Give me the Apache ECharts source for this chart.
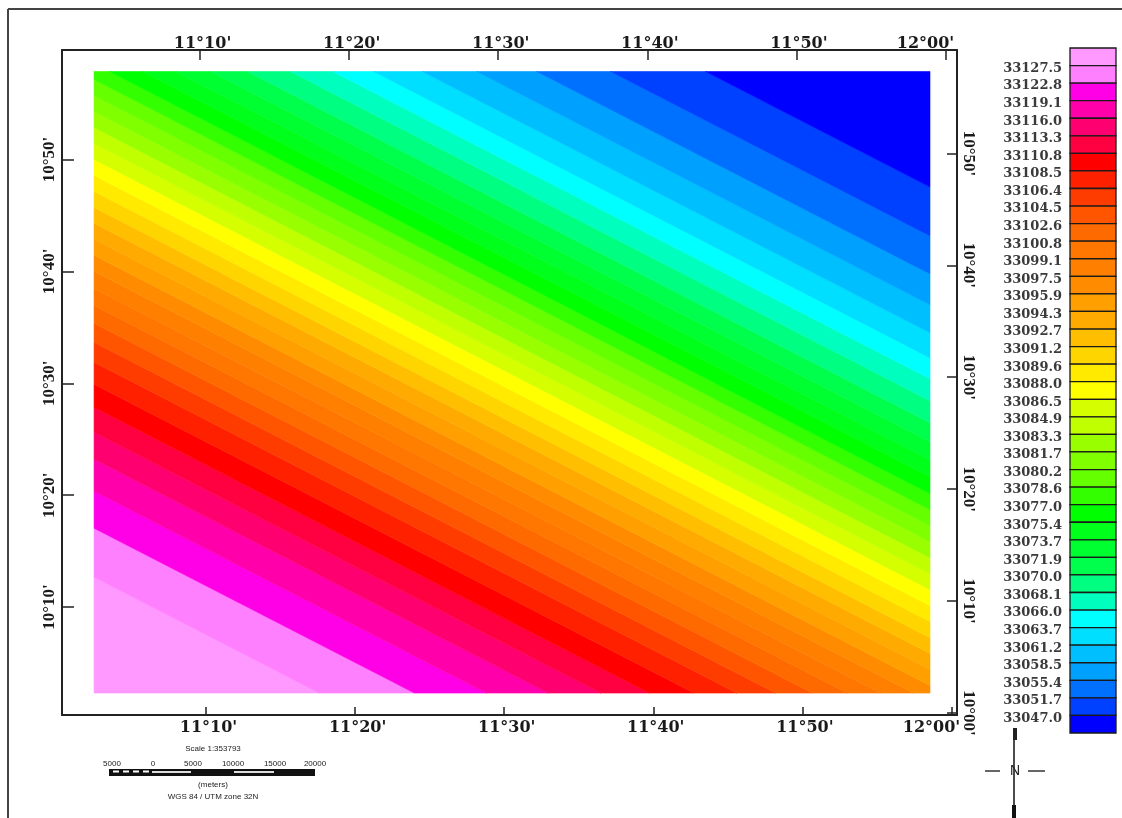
<!DOCTYPE html>
<html>
<head>
<meta charset="utf-8">
<style>html,body{margin:0;padding:0;background:#fff}#c{width:1122px;height:818px}</style>
<script src="https://cdn.jsdelivr.net/npm/echarts@6/dist/echarts.min.js"></script>
</head>
<body>
<div id="c"></div>
<script>
// Gravity levels as printed on the colour scale, top to bottom
const levelLabels = ['33127.5','33122.8','33119.1','33116.0','33113.3','33110.8','33108.5','33106.4','33104.5','33102.6','33100.8','33099.1','33097.5','33095.9','33094.3','33092.7','33091.2','33089.6','33088.0','33086.5','33084.9','33083.3','33081.7','33080.2','33078.6','33077.0','33075.4','33073.7','33071.9','33070.0','33068.1','33066.0','33063.7','33061.2','33058.5','33055.4','33051.7','33047.0'];
// Band colours, top of the scale to bottom
const bandColors = ['#FF99FF','#FF80FF','#FF00E6','#FF00AA','#FF0070','#FF0040','#FF0000','#FF2000','#FF3C00','#FF5500','#FF6A00','#FF7700','#FF8000','#FF8C00','#FF9F00','#FFAA00','#FFBF00','#FFD500','#FFEA00','#FFFF00','#D5FF00','#BFFF00','#99FF00','#80FF00','#66FF00','#33FF00','#00FF00','#00FF1A','#00FF30','#00FF4D','#00FF80','#00FFBF','#00FFFF','#00DFFF','#00BFFF','#00A0FF','#0070FF','#0040FF','#0000FF'];
// Latitude (minutes of arc) where each contour meets the west edge of the map, same order as levelLabels
const contourLat = [612.68,617.05,620.36,623.21,625.63,627.86,629.91,631.88,633.66,635.36,636.96,638.48,640.0,641.43,642.86,644.29,645.71,647.14,648.57,650.0,651.43,652.86,654.29,655.71,657.14,658.57,660.09,661.61,663.21,664.91,666.88,668.84,670.71,672.95,675.45,678.21,681.61,685.98];
const contourSlope = -0.6856; // minutes of latitude per minute of longitude
const mapExtent = {west:662.49, east:718.56, south:602.32, north:657.86};
const lonTicks = [670,680,690,700,710,720];
const latTicksLeft = [610,620,630,640,650];
const latTicksRight = [600,610,620,630,640,650];

const dms = v => { const d=Math.floor(v/60), m=Math.round(v-d*60); return d+'°'+String(m).padStart(2,'0')+"'"; };
const lonFont = {fontFamily:'DejaVu Serif',fontWeight:'bold',fontSize:16,color:'#1a1a1a'};
const lonLabel = {
  formatter:v=>(v===720?'{e|':'{s|')+dms(v)+'}',
  rich:{s:Object.assign({padding:[0,0,0,5]},lonFont),e:Object.assign({padding:[0,40,0,0]},lonFont)}
};
const FONT_Y = {fontFamily:'Liberation Serif',fontWeight:'bold',fontSize:17,color:'#1a1a1a',formatter:dms};
const frameLine = {show:true,onZero:false,lineStyle:{color:'#222',width:2}};
const tickStyle = {color:'#222',width:1.5};

function clipPoly(poly, inside, cross){
  const out=[];
  poly.forEach((p,i)=>{
    const q=poly[(i+1)%poly.length];
    if(inside(p)) out.push(p);
    if(inside(p)!==inside(q)) out.push(cross(p,q));
  });
  return out;
}
function clipToMap(poly){
  const e=mapExtent;
  const atX=x=>(a,b)=>[x,a[1]+(b[1]-a[1])*(x-a[0])/(b[0]-a[0])];
  const atY=y=>(a,b)=>[a[0]+(b[0]-a[0])*(y-a[1])/(b[1]-a[1]),y];
  poly=clipPoly(poly,p=>p[0]>=e.west,atX(e.west));
  poly=clipPoly(poly,p=>p[0]<=e.east,atX(e.east));
  poly=clipPoly(poly,p=>p[1]>=e.south,atY(e.south));
  poly=clipPoly(poly,p=>p[1]<=e.north,atY(e.north));
  return poly;
}
function bandPolygon(i){
  const e=mapExtent, far=200;
  const lo = i>0 ? contourLat[i-1] : e.south-far;
  const hi = i<contourLat.length ? contourLat[i] : e.north+far;
  const dx = (e.east+far)-e.west;
  return clipToMap([[e.west,lo],[e.east+far,lo+contourSlope*dx],[e.east+far,hi+contourSlope*dx],[e.west,hi]]);
}

const txt = (x,y,text,size,extra)=>({type:'text',silent:true,style:Object.assign({x,y,text,fontFamily:'Liberation Sans',fontSize:size,fill:'#222',align:'center',verticalAlign:'middle'},extra||{})});
const rect = (x,y,w,h,fill)=>({type:'rect',silent:true,shape:{x,y,width:w,height:h},style:{fill}});
const line = (x1,y1,x2,y2,stroke,w)=>({type:'line',silent:true,shape:{x1,y1,x2,y2},style:{stroke,lineWidth:w}});

const chart = echarts.init(document.getElementById('c'),null,{renderer:'canvas'});
chart.setOption({
  animation:false,
  backgroundColor:'#fff',
  grid:[
    {left:62,top:50,width:895,height:665},
    {left:1070,top:48,width:46,height:685}
  ],
  xAxis:[
    {type:'value',gridIndex:0,position:'bottom',min:660.34,max:720.37,splitLine:{show:false},axisLine:frameLine,
     axisTick:{show:true,inside:true,length:8,lineStyle:tickStyle,customValues:lonTicks},
     axisLabel:Object.assign({customValues:lonTicks,margin:5},lonLabel)},
    {type:'value',gridIndex:0,position:'top',min:660.74,max:720.77,splitLine:{show:false},axisLine:frameLine,
     axisTick:{show:true,inside:true,length:10,lineStyle:tickStyle,customValues:lonTicks},
     axisLabel:Object.assign({customValues:lonTicks,margin:-2},lonLabel)},
    {type:'value',gridIndex:1,min:0,max:1,show:false}
  ],
  yAxis:[
    {type:'value',gridIndex:0,position:'left',min:600.36,max:659.78,splitLine:{show:false},axisLine:frameLine,
     axisTick:{show:true,inside:true,length:12,lineStyle:tickStyle,customValues:latTicksLeft},
     axisLabel:Object.assign({customValues:latTicksLeft,rotate:90,margin:4},FONT_Y)},
    {type:'value',gridIndex:0,position:'right',min:599.82,max:659.24,splitLine:{show:false},axisLine:frameLine,
     axisTick:{show:true,inside:true,length:10,lineStyle:tickStyle,customValues:latTicksRight},
     axisLabel:Object.assign({customValues:latTicksRight,rotate:-90,margin:3},FONT_Y)},
    {type:'value',gridIndex:1,position:'left',min:0,max:bandColors.length,splitLine:{show:false},
     axisLine:{show:false},axisTick:{show:false},
     axisLabel:{
       customValues:levelLabels.map((_,j)=>levelLabels.length-j-0.17),
       formatter:v=>levelLabels[Math.round(levelLabels.length-0.17-v)],
       margin:8,fontFamily:'DejaVu Serif',fontWeight:'bold',fontSize:13,color:'#3a3a3a'
     }}
  ],
  series:[
    {type:'custom',coordinateSystem:'cartesian2d',xAxisIndex:0,yAxisIndex:0,silent:true,
     data:bandColors.map((c,i)=>[i]),
     renderItem:(params,api)=>{
       const i=api.value(0);
       const pts=bandPolygon(i).map(p=>api.coord(p));
       return {type:'polygon',shape:{points:pts},style:{fill:bandColors[i],stroke:bandColors[i],lineWidth:0.6}};
     }},
    {type:'custom',coordinateSystem:'cartesian2d',xAxisIndex:2,yAxisIndex:2,silent:true,z:3,
     data:bandColors.map((c,i)=>[i]),
     renderItem:(params,api)=>{
       const i=api.value(0);
       const n=bandColors.length;
       const a=api.coord([0,n-i]), b=api.coord([1,n-i-1]);
       return {type:'rect',shape:{x:a[0],y:a[1],width:b[0]-a[0],height:b[1]-a[1]},
               style:{fill:bandColors[i],stroke:'#1a1a1a',lineWidth:1.3}};
     }}
  ],
  graphic:[
    line(8,9,1122,9,'#444',2),
    line(8,9,8,818,'#444',2),
    // scale bar
    txt(213,749,'Scale 1:353793',8),
    txt(112,764,'5000',8),txt(153,764,'0',8),txt(193,764,'5000',8),txt(233,764,'10000',8),txt(275,764,'15000',8),txt(315,764,'20000',8),
    rect(109,769,206,7,'#111'),
    rect(113,770.5,6,2,'#fff'),rect(123,770.5,6,2,'#fff'),rect(133,770.5,6,2,'#fff'),rect(143,770.5,6,2,'#fff'),
    rect(152,771,39,2,'#ddd'),rect(234,771,40,2,'#ddd'),
    txt(213,785,'(meters)',8),
    txt(213,797,'WGS 84 / UTM zone 32N',8),
    // north arrow
    line(1014,728,1014,818,'#111',1.5),
    rect(1013,728,4,12,'#222'),
    rect(1012,805,4,13,'#111'),
    line(985,771,1000,771,'#333',1.5),
    line(1028,771,1045,771,'#333',1.5),
    txt(1015,771,'N',14,{fill:'#222'})
  ]
});
</script>
</body>
</html>
